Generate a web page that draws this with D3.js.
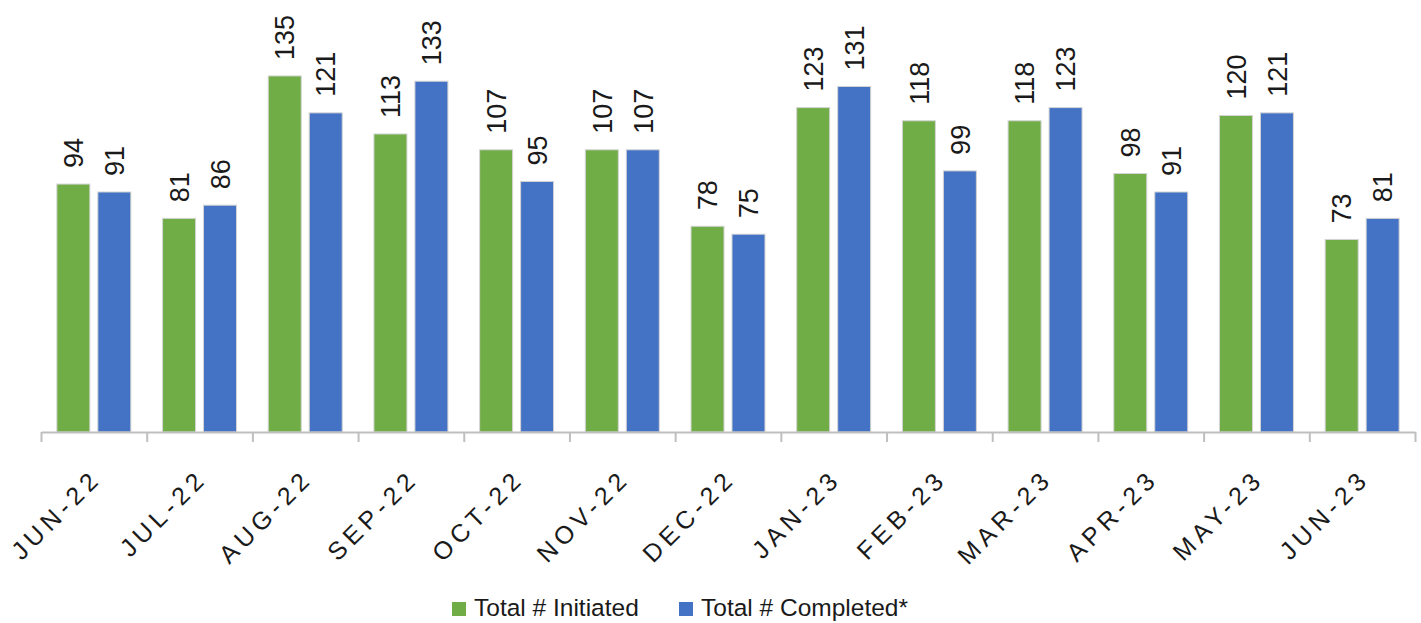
<!DOCTYPE html>
<html>
<head>
<meta charset="utf-8">
<script src="https://cdn.jsdelivr.net/npm/d3@7"></script>
<style>
  html, body { margin: 0; padding: 0; background: #fff; }
  svg { display: block; }
  text { font-family: "Liberation Sans", Arial, sans-serif; }
</style>
</head>
<body>
<svg id="chart" width="1421" height="623"></svg>
<script>
const categories = ["JUN-22","JUL-22","AUG-22","SEP-22","OCT-22","NOV-22","DEC-22","JAN-23","FEB-23","MAR-23","APR-23","MAY-23","JUN-23"];
const seriesNames = ["Total # Initiated", "Total # Completed*"];
const initiated = [94, 81, 135, 113, 107, 107, 78, 123, 118, 118, 98, 120, 73];
const completed = [91, 86, 121, 133, 95, 107, 75, 131, 99, 123, 91, 121, 81];
const colors = ["#70AD47", "#4472C4"];

const svg = d3.select("#chart");
const left = 41, right = 1415, baseY = 432;

const x0 = d3.scaleBand().domain(categories).range([left, right]).padding(0);
const x1 = d3.scaleBand().domain(seriesNames).range([0, x0.bandwidth()]).paddingInner(0.195).paddingOuter(0.387);
const y = d3.scaleLinear().domain([0, 160]).range([baseY, 10]);

const data = categories.map((c, i) => ({ cat: c, values: [initiated[i], completed[i]] }));

const groups = svg.append("g").selectAll("g").data(data).join("g")
  .attr("transform", d => `translate(${x0(d.cat)},0)`);

groups.selectAll("rect").data(d => d.values.map((v, j) => ({ s: seriesNames[j], v, j })))
  .join("rect")
  .attr("x", d => x1(d.s))
  .attr("y", d => y(d.v))
  .attr("width", x1.bandwidth())
  .attr("height", d => y(0) - y(d.v))
  .attr("fill", d => colors[d.j])
  .attr("stroke", "#d4d4d4")
  .attr("stroke-width", 1);

groups.selectAll("text.val").data(d => d.values.map((v, j) => ({ s: seriesNames[j], v, j })))
  .join("text")
  .attr("class", "val")
  .attr("transform", d => `translate(${x1(d.s) + x1.bandwidth() / 2},${y(d.v) - 16}) rotate(-90)`)
  .attr("dy", "0.36em")
  .attr("text-anchor", "start")
  .attr("font-size", 27)
  .attr("fill", "#1a1a1a")
  .text(d => d.v);

// category boundary ticks
const idx = d3.scaleLinear().domain([0, categories.length]).range([left, right]);
const tickAxis = d3.axisBottom(idx).tickValues(d3.range(categories.length + 1)).tickFormat("").tickSize(10).tickSizeOuter(0);
const gt = svg.append("g").attr("transform", `translate(0,${baseY})`).call(tickAxis);
gt.selectAll("path,line").attr("stroke", "#bfbfbf").attr("stroke-width", 2);

// category labels
const labAxis = d3.axisBottom(x0).tickSize(0).tickSizeOuter(0);
const gl = svg.append("g").attr("transform", `translate(0,${baseY})`).call(labAxis);
gl.select(".domain").remove();
gl.selectAll(".tick text")
  .attr("font-family", "Liberation Sans, Arial, sans-serif")
  .attr("font-size", 25)
  .attr("letter-spacing", "5px")
  .attr("fill", "#1a1a1a")
  .attr("text-anchor", "end")
  .attr("dy", null)
  .attr("y", null)
  .attr("transform", "translate(9,48) rotate(-45)");

// legend
const legend = svg.append("g");
const legX = [452, 679];
seriesNames.forEach((s, i) => {
  legend.append("rect").attr("x", legX[i]).attr("y", 602).attr("width", 14).attr("height", 14).attr("fill", colors[i]);
  legend.append("text").attr("x", legX[i] + 22).attr("y", 616).attr("font-size", 24.5).attr("fill", "#1a1a1a").text(s);
});
</script>
</body>
</html>
